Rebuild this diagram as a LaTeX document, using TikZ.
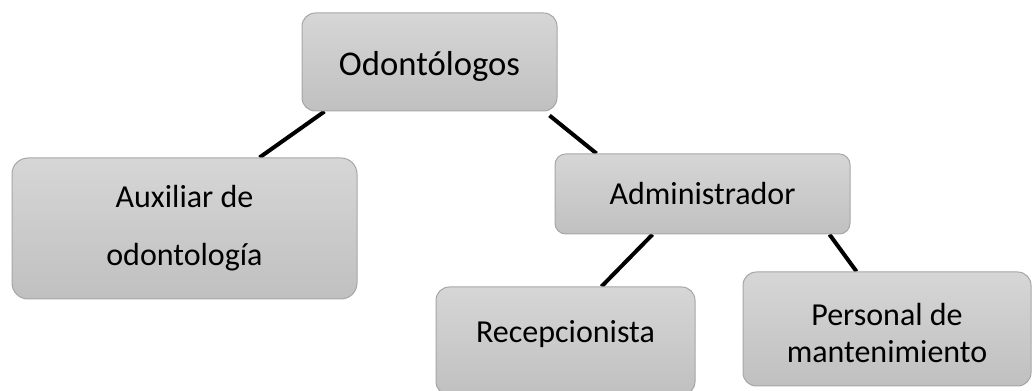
\documentclass[tikz,border=0pt]{standalone}
\usepackage{fontspec}
\setmainfont{Carlito}
\usetikzlibrary{backgrounds}

\definecolor{boxtop}{RGB}{214,214,214}
\definecolor{boxbot}{RGB}{192,192,192}
\definecolor{boxline}{RGB}{166,166,166}

\tikzset{every picture/.style={line width=0.75pt}}
\tikzset{
  rolebox/.style={draw=boxline, top color=boxtop, bottom color=boxbot,
    rounded corners=10pt, align=center, inner sep=0pt, font=\fontsize{24}{27.75}\selectfont},
  link/.style={line width=3pt, black}
}

\begin{document}
\begin{tikzpicture}[x=0.75pt,y=0.75pt,yscale=-1,xscale=1]
	\useasboundingbox (0,0) rectangle (1032,391);
	
	%Shape: Rounded Rect [id:odo] 
	\node [rolebox, minimum width=191.25pt, minimum height=73.5pt, text height=22pt, text depth=1pt, font=\fontsize{26}{30}\selectfont] (odo) at (429.5,62) {Odontólogos};
	%Shape: Rounded Rect [id:aux] 
	\node [rolebox, minimum width=258.75pt, minimum height=105.75pt, rounded corners=12pt, font=\fontsize{24}{43.5}\selectfont] (aux) at (184.5,228.5) {Auxiliar de\\odontología};
	%Shape: Rounded Rect [id:adm] 
	\node [rolebox, minimum width=221.25pt, minimum height=60pt, rounded corners=8pt] (adm) at (702.5,194) {Administrador};
	%Shape: Rounded Rect [id:rec] 
	\node [rolebox, minimum width=194.25pt, minimum height=81pt, text height=12pt, text depth=9pt] (rec) at (565.5,341) {Recepcionista};
	%Shape: Rounded Rect [id:per] 
	\node [rolebox, minimum width=216pt, minimum height=85.5pt] (per) at (887,329) {\\[-4.5pt]Personal de\\mantenimiento};
	
	\begin{pgfonlayer}{background}
	%Straight Lines [id:l1] 
	\draw [link] ([xshift=17.25pt]odo.south west) -- ([xshift=186pt]aux.north west) ;
	%Straight Lines [id:l2] 
	\draw [link] ([xshift=-6pt,yshift=3pt]odo.south east) -- ([xshift=31.5pt]adm.north west) ;
	%Straight Lines [id:l3] 
	\draw [link] ([xshift=73.5pt]adm.south west) -- ([xshift=124.5pt]rec.north west) ;
	%Straight Lines [id:l4] 
	\draw [link] ([xshift=206.25pt]adm.south west) -- ([xshift=85.5pt]per.north west) ;
	\end{pgfonlayer}
	
\end{tikzpicture}
\end{document}
